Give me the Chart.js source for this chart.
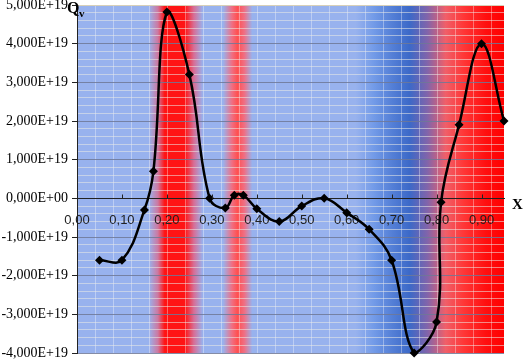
<!DOCTYPE html>
<html>
<head>
<meta charset="utf-8">
<script src="https://cdn.jsdelivr.net/npm/chart.js@4"></script>
<style>
  body { margin: 0; background: #fff; }
  canvas { display: block; }
</style>
</head>
<body>
<canvas id="chart" width="524" height="360"></canvas>
<script>
// --- data ---
const xValues = [0.05, 0.10, 0.15, 0.17, 0.20, 0.25, 0.295, 0.33, 0.35, 0.37, 0.40, 0.45,
                 0.50, 0.55, 0.60, 0.65, 0.70, 0.75, 0.80, 0.81, 0.85, 0.90, 0.95];
const qValues = [-1.6e19, -1.6e19, -0.3e19, 0.7e19, 4.82e19, 3.2e19, 0.0, -0.25e19, 0.08e19, 0.08e19,
                 -0.27e19, -0.6e19, -0.2e19, 0.0, -0.37e19, -0.8e19, -1.6e19, -4.0e19, -3.2e19,
                 -0.1e19, 1.9e19, 4.0e19, 2.0e19];
const xTickLabels = ['0,00', '0,10', '0,20', '0,30', '0,40', '0,50', '0,60', '0,70', '0,80', '0,90'];
const yTickLabels = ['-4,000E+19', '-3,000E+19', '-2,000E+19', '-1,000E+19', '0,000E+00',
                     '1,000E+19', '2,000E+19', '3,000E+19', '4,000E+19', '5,000E+19'];

// background colour bands (x position, colour)
const BLUE = 'rgb(152,178,238)';
const bands = [
  [0, BLUE], [0.16, BLUE], [0.18, 'rgb(205,120,160)'], [0.195, 'rgb(255,20,20)'],
  [0.24, 'rgb(255,20,20)'], [0.26, 'rgb(215,110,150)'], [0.28, BLUE],
  [0.325, BLUE], [0.345, 'rgb(240,110,130)'], [0.357, 'rgb(255,80,80)'], [0.372, 'rgb(240,110,130)'], [0.39, BLUE],
  [0.62, BLUE], [0.66, 'rgb(115,155,232)'], [0.70, 'rgb(85,128,215)'], [0.74, 'rgb(60,105,200)'],
  [0.78, 'rgb(130,100,170)'], [0.82, 'rgb(240,95,105)'], [0.86, 'rgb(255,55,55)'],
  [0.91, 'rgb(255,15,15)'], [0.95, 'rgb(255,0,0)']
];

const isMajor = v => Math.abs(v / 1e19 - Math.round(v / 1e19)) < 1e-6;

const backgroundPlugin = {
  id: 'bands',
  beforeDraw(chart) {
    const { ctx, chartArea: a, scales: { x } } = chart;
    const g = ctx.createLinearGradient(a.left, 0, a.right, 0);
    bands.forEach(([v, c]) => {
      const t = (x.getPixelForValue(v) - a.left) / (a.right - a.left);
      g.addColorStop(Math.min(1, Math.max(0, t)), c);
    });
    ctx.save();
    ctx.fillStyle = g;
    ctx.fillRect(a.left, a.top, a.right - a.left, a.bottom - a.top);
    // faint vertical lines
    ctx.strokeStyle = 'rgba(255,255,255,0.35)';
    ctx.lineWidth = 1;
    for (let k = 1; k * 0.04 < 0.95; k++) {
      const px = Math.round(x.getPixelForValue(k * 0.04)) + 0.5;
      ctx.beginPath();
      ctx.moveTo(px, a.top);
      ctx.lineTo(px, a.bottom);
      ctx.stroke();
    }
    ctx.restore();
  },
  afterDraw(chart) {
    const { ctx, scales: { x, y } } = chart;
    ctx.save();
    // small tick marks above the x axis
    const y0 = Math.round(y.getPixelForValue(0)) + 0.5;
    ctx.strokeStyle = '#222';
    ctx.lineWidth = 1;
    xTickLabels.forEach((_, i) => {
      const px = Math.round(x.getPixelForValue(i / 10)) + 0.5;
      ctx.beginPath();
      ctx.moveTo(px, y0);
      ctx.lineTo(px, y0 - 4);
      ctx.stroke();
    });
    // axis names
    ctx.fillStyle = '#000';
    ctx.textBaseline = 'alphabetic';
    ctx.font = 'bold 16px "Liberation Serif"';
    ctx.fillText('Q', 67, 13);
    ctx.font = 'bold 11px "Liberation Serif"';
    ctx.fillText('v', 79, 17);
    ctx.font = 'bold 15px "Liberation Serif"';
    ctx.fillText('X', 512, 209);
    ctx.restore();
  }
};

new Chart(document.getElementById('chart'), {
  type: 'line',
  data: {
    datasets: [{
      data: xValues.map((v, i) => ({ x: v, y: qValues[i] })),
      borderColor: '#000',
      borderWidth: 2.5,
      backgroundColor: '#000',
      pointStyle: 'rectRot',
      pointRadius: 4.5,
      pointBackgroundColor: '#000',
      pointBorderWidth: 0,
      tension: 0.4,
      fill: false,
      clip: false
    }]
  },
  options: {
    responsive: false,
    animation: false,
    devicePixelRatio: 1,
    layout: { padding: { top: 5, right: 20, bottom: 7, left: 0 } },
    plugins: { legend: { display: false }, tooltip: { enabled: false } },
    scales: {
      x: {
        type: 'linear',
        position: { y: 0 },
        min: 0,
        max: 0.95,
        grid: { display: false, drawTicks: false },
        border: { display: true, color: '#222', width: 1 },
        ticks: {
          stepSize: 0.1,
          includeBounds: false,
          autoSkip: false,
          padding: 14,
          color: '#222',
          font: { family: 'Liberation Sans', size: 13 },
          callback: v => {
            const i = Math.round(v * 10);
            return Math.abs(v * 10 - i) < 1e-6 ? (xTickLabels[i] || '') : '';
          }
        },
        afterFit: s => { s.paddingLeft = 0; s.paddingRight = 0; }
      },
      y: {
        type: 'linear',
        min: -4e19,
        max: 5e19,
        grid: {
          color: c => {
            const v = c.tick.value;
            if (v === 5e19) return '#d8d0b8';
            return isMajor(v) ? 'rgba(110,120,150,0.85)' : 'rgba(235,235,230,0.55)';
          },
          tickColor: c => isMajor(c.tick.value) ? '#222' : 'rgba(0,0,0,0)',
          tickLength: 5,
          lineWidth: 1
        },
        border: { display: true, color: '#222', width: 1 },
        ticks: {
          stepSize: 0.2e19,
          maxTicksLimit: 100,
          autoSkip: false,
          padding: 4,
          color: '#000',
          font: { family: 'Liberation Serif', size: 14 },
          callback: v => isMajor(v) ? yTickLabels[Math.round(v / 1e19) + 4] : ''
        },
        afterFit: s => { s.width = 77; s.paddingTop = 0; s.paddingBottom = 0; }
      }
    }
  },
  plugins: [backgroundPlugin]
});
</script>
</body>
</html>
